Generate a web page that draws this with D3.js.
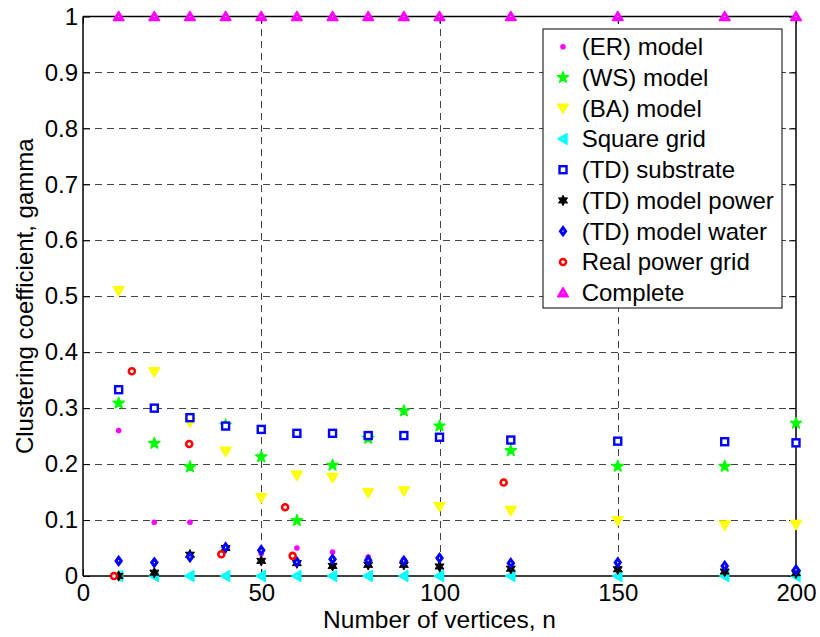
<!DOCTYPE html>
<html>
<head>
<meta charset="utf-8">
<script src="https://cdn.jsdelivr.net/npm/d3@7"></script>
<style>
  body { margin: 0; background: #fff; }
  text { font-family: "Liberation Sans", Arial, sans-serif; }
</style>
</head>
<body>
<div id="chart"></div>
<script>
// vertex counts used by the model series
var nVals = [10, 20, 30, 40, 50, 60, 70, 80, 90, 100, 120, 150, 180, 200];

var erVals    = [0.26, 0.096, 0.096, 0.05, 0.04, 0.05, 0.043, 0.034, 0.03, 0.033, 0.02, 0.015, 0.012, 0.01];
var wsVals    = [0.309, 0.237, 0.195, 0.27, 0.213, 0.099, 0.198, 0.246, 0.295, 0.268, 0.224, 0.196, 0.196, 0.273];
var baVals    = [0.51, 0.365, 0.275, 0.223, 0.14, 0.18, 0.176, 0.149, 0.152, 0.124, 0.117, 0.099, 0.091, 0.092];
var gridVals  = [0, 0, 0, 0, 0, 0, 0, 0, 0, 0, 0, 0, 0, 0];
var subVals   = [0.333, 0.30, 0.283, 0.268, 0.262, 0.255, 0.255, 0.251, 0.251, 0.248, 0.243, 0.241, 0.24, 0.238];
var powVals   = [0, 0.006, 0.038, 0.05, 0.027, 0.023, 0.018, 0.02, 0.02, 0.017, 0.013, 0.012, 0.008, 0.005];
var waterVals = [0.027, 0.024, 0.034, 0.051, 0.046, 0.025, 0.03, 0.028, 0.027, 0.032, 0.023, 0.024, 0.018, 0.011];
var completeVals = [1, 1, 1, 1, 1, 1, 1, 1, 1, 1, 1, 1, 1, 1];

// real power grid has its own n values
var realN    = [8.7, 13.7, 29.8, 38.8, 56.7, 58.8, 118];
var realVals = [0, 0.366, 0.236, 0.039, 0.123, 0.036, 0.167];

var xTicks = [0, 50, 100, 150, 200];
var yTicks = [0, 0.1, 0.2, 0.3, 0.4, 0.5, 0.6, 0.7, 0.8, 0.9, 1];
var xGrid = [50, 100, 150];

var series = [
  {name: "(ER) model",        n: nVals, v: erVals,    mark: "dot",   color: "#ff00ff"},
  {name: "(WS) model",        n: nVals, v: wsVals,    mark: "star",  color: "#00ff00"},
  {name: "(BA) model",        n: nVals, v: baVals,    mark: "tdown", color: "#ffff00"},
  {name: "Square grid",       n: nVals, v: gridVals,  mark: "tleft", color: "#00ffff"},
  {name: "(TD) substrate",    n: nVals, v: subVals,   mark: "square",color: "#0000ff"},
  {name: "(TD) model power",  n: nVals, v: powVals,   mark: "hex",   color: "#000000"},
  {name: "(TD) model water",  n: nVals, v: waterVals, mark: "diamond",color: "#0000ff"},
  {name: "Real power grid",   n: realN, v: realVals,  mark: "circle",color: "#ff0000"},
  {name: "Complete",          n: nVals, v: completeVals, mark: "tup", color: "#ff00ff"}
];

var W = 820, H = 637;
var margin = {left: 83, right: 24, top: 16.5, bottom: 61};

var svg = d3.select("#chart").append("svg")
  .attr("width", W).attr("height", H);

var x = d3.scaleLinear().domain([0, 200]).range([margin.left, W - margin.right]);
var y = d3.scaleLinear().domain([0, 1]).range([H - margin.bottom, margin.top]);

// grid lines
var grid = svg.append("g").attr("stroke", "#444").attr("stroke-width", 1)
  .attr("stroke-dasharray", "7,5");
grid.selectAll(".gy").data(yTicks.slice(1, -1)).enter().append("line")
  .attr("x1", x(0)).attr("x2", x(200))
  .attr("y1", function(d){ return Math.round(y(d)) + 0.5; })
  .attr("y2", function(d){ return Math.round(y(d)) + 0.5; });
grid.selectAll(".gx").data(xGrid).enter().append("line")
  .attr("y1", y(0)).attr("y2", y(1))
  .attr("x1", function(d){ return Math.round(x(d)) + 0.5; })
  .attr("x2", function(d){ return Math.round(x(d)) + 0.5; });

// axes, ticks drawn inward like matlab
var fs = "24px";
var bottomAxis = svg.append("g").attr("transform", "translate(0," + y(0) + ")")
  .call(d3.axisBottom(x).tickValues(xTicks).tickSize(-7).tickPadding(8).tickFormat(d3.format("d")));
var leftAxis = svg.append("g").attr("transform", "translate(" + x(0) + ",0)")
  .call(d3.axisLeft(y).tickValues(yTicks).tickSize(-7).tickPadding(5)
    .tickFormat(function(d){ return d === 0 || d === 1 ? d3.format("d")(d) : d3.format(".1f")(d); }));
var topAxis = svg.append("g").attr("transform", "translate(0," + y(1) + ")")
  .call(d3.axisTop(x).tickValues(xTicks).tickSize(-7).tickFormat(""));
var rightAxis = svg.append("g").attr("transform", "translate(" + x(200) + ",0)")
  .call(d3.axisRight(y).tickValues(yTicks).tickSize(-7).tickFormat(""));

[bottomAxis, leftAxis, topAxis, rightAxis].forEach(function(a){
  a.selectAll("path").attr("stroke", "#000").attr("stroke-width", 1.5);
  a.selectAll("line").attr("stroke", "#000").attr("stroke-width", 1);
  a.selectAll("text").attr("fill", "#000").style("font-size", fs)
    .style("font-family", '"Liberation Sans", Arial, sans-serif');
});
bottomAxis.selectAll("path").attr("d", "M" + x(0) + ",0H" + x(200));
leftAxis.selectAll("path").attr("d", "M0," + y(0) + "V" + y(1));
topAxis.selectAll("path").attr("d", "M" + x(0) + ",0H" + x(200));
rightAxis.selectAll("path").attr("d", "M0," + y(0) + "V" + y(1));

// axis labels
svg.append("text").attr("x", x(100)).attr("y", 628)
  .attr("text-anchor", "middle").style("font-size", "24.5px").text("Number of vertices, n");
svg.append("text").attr("transform", "translate(33," + y(0.5) + ") rotate(-90)")
  .attr("text-anchor", "middle").style("font-size", "24px").text("Clustering coefficient, gamma");

// marker drawing
var star5 = d3.symbol().type(d3.symbolStar).size(38);
var star6 = (function(){
  var pts = [];
  for (var i = 0; i < 12; i++) {
    var r = i % 2 === 0 ? 5.2 : 2.8;
    var a = Math.PI / 2 + i * Math.PI / 6;
    pts.push([r * Math.cos(a), r * Math.sin(a)]);
  }
  return "M" + pts.join("L") + "Z";
})();
function tri(dir) {
  var s = 5.3;
  if (dir === "down") return "M" + (-s) + "," + (-s * 0.75) + "L" + s + "," + (-s * 0.75) + "L0," + (s * 0.95) + "Z";
  if (dir === "up") return "M" + (-s) + "," + (s * 0.75) + "L" + s + "," + (s * 0.75) + "L0," + (-s * 0.95) + "Z";
  return "M" + (s * 0.75) + "," + (-s) + "L" + (s * 0.75) + "," + s + "L" + (-s * 0.95) + ",0Z";
}

function drawMark(g, mark, color) {
  if (mark === "dot") {
    g.append("circle").attr("r", 2.8).attr("fill", color);
  } else if (mark === "star") {
    g.append("path").attr("d", star5()).attr("fill", color).attr("stroke", color).attr("stroke-width", 1.5)
      .attr("stroke-linejoin", "round");
  } else if (mark === "hex") {
    g.append("path").attr("d", star6).attr("fill", color).attr("stroke", color).attr("stroke-width", 1);
  } else if (mark === "tdown" || mark === "tup" || mark === "tleft") {
    var dir = mark === "tdown" ? "down" : mark === "tup" ? "up" : "left";
    g.append("path").attr("d", tri(dir)).attr("fill", color).attr("stroke", color).attr("stroke-width", 1.5)
      .attr("stroke-linejoin", "round");
    g.append("circle").attr("r", 0.6).attr("fill", "#fff");
  } else if (mark === "square") {
    g.append("rect").attr("x", -3.5).attr("y", -3.5).attr("width", 7).attr("height", 7)
      .attr("fill", "#fff").attr("stroke", color).attr("stroke-width", 2.4);
  } else if (mark === "diamond") {
    g.append("path").attr("d", "M0,-3.6L2.6,0L0,3.6L-2.6,0Z").attr("fill", "#fff")
      .attr("stroke", color).attr("stroke-width", 3);
  } else if (mark === "circle") {
    g.append("circle").attr("r", 3).attr("fill", "#fff").attr("stroke", color).attr("stroke-width", 2.6);
  }
}

var plot = svg.append("g");
series.forEach(function(s){
  var pts = s.n.map(function(n, i){ return [n, s.v[i]]; });
  plot.append("g").selectAll("g").data(pts).enter().append("g")
    .attr("transform", function(d){ return "translate(" + x(d[0]) + "," + y(d[1]) + ")"; })
    .each(function(){ drawMark(d3.select(this), s.mark, s.color); });
});

// legend
var lg = svg.append("g").attr("transform", "translate(543,29)");
lg.append("rect").attr("width", 239).attr("height", 279)
  .attr("fill", "#fff").attr("stroke", "#000").attr("stroke-width", 1);
series.forEach(function(s, i){
  var row = lg.append("g").attr("transform", "translate(0," + (17.7 + i * 30.75) + ")");
  var m = row.append("g").attr("transform", "translate(20,0)");
  drawMark(m, s.mark, s.color);
  row.append("text").attr("x", 38.7).attr("y", 8.5).style("font-size", "24px").text(s.name);
});
</script>
</body>
</html>
